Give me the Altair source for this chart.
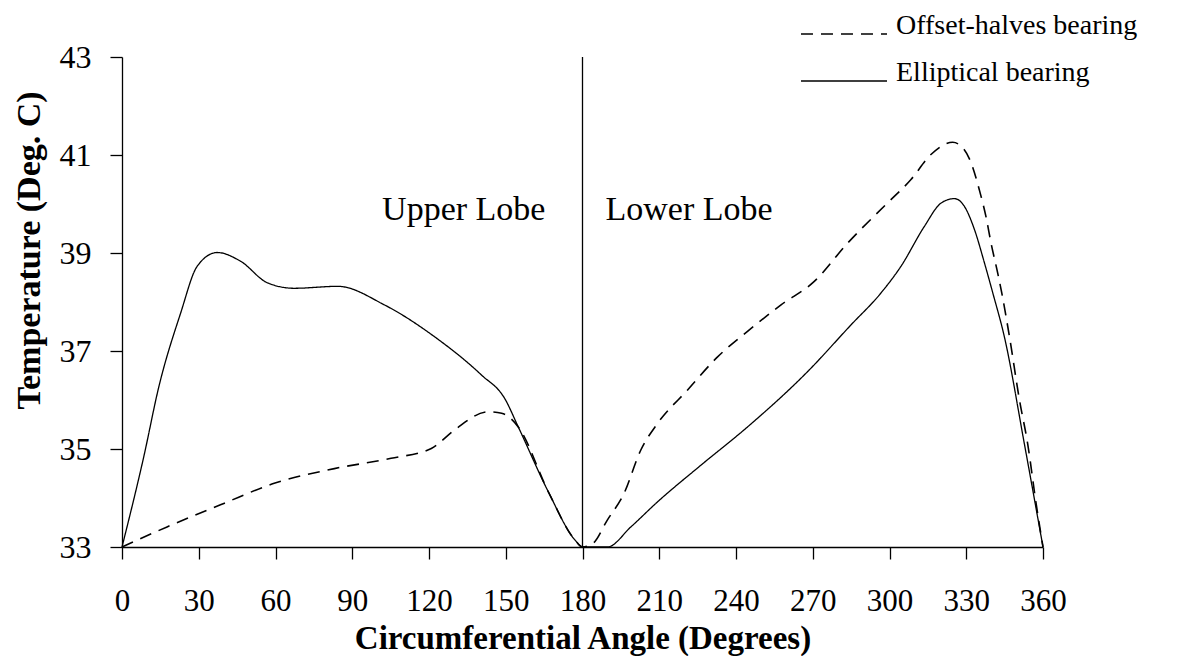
import altair as alt
import pandas as pd

# Elliptical bearing (solid)
ell_angle = [0, 8.5, 14.4, 22.9, 29.4, 37.2, 46.4, 56.9, 67.3, 84.3, 102.6, 122.2,
             140.5, 149.6, 154.9, 166.7, 177.1, 180, 189.7, 198.9, 209.3, 226.3,
             244.5, 268, 284.9, 296.6, 304.5, 313.6, 320.2, 325.4, 329.3, 333.2,
             337.1, 340.4, 344.9, 352.7, 360]
ell_temp = [33.0, 34.84, 36.27, 37.77, 38.73, 39.01, 38.83, 38.39, 38.28, 38.32, 37.94, 37.29,
            36.51, 36.03, 35.45, 34.12, 33.14, 33.0, 33.0, 33.41, 33.92, 34.67,
            35.45, 36.58, 37.53, 38.18, 38.73, 39.54, 40.02, 40.11, 39.95, 39.48,
            38.80, 38.18, 37.29, 35.11, 33.0]

# Offset-halves bearing (dashed)
off_angle = [0, 17.6, 39.8, 59.5, 83, 105.2, 120.9, 130, 143.1, 148.4, 154.9, 166.7,
             177.1, 180, 184, 189.7, 196.2, 202.8, 209.3, 221, 232.8, 244.5, 257.6,
             270.6, 283.6, 298.6, 308.4, 316.2, 324.7, 328, 331.9, 335.1, 337.8,
             339.7, 342.3, 343.9, 346.9, 350.8, 354, 357.3, 360]
off_temp = [33.0, 33.41, 33.89, 34.30, 34.60, 34.81, 35.01, 35.39, 35.76, 35.73, 35.45, 34.12,
            33.14, 33.0, 33.07, 33.55, 34.09, 34.98, 35.52, 36.2, 36.88, 37.40, 37.94,
            38.42, 39.2, 39.99, 40.50, 41.01, 41.26, 41.18, 40.84, 40.29, 39.72,
            39.2, 38.59, 38.18, 37.29, 36.0, 35.11, 33.89, 33.0]

x_ticks = list(range(0, 361, 30))
y_ticks = [33, 35, 37, 39, 41, 43]

lobe_labels = ["Upper Lobe", "Lower Lobe"]
lobe_x = [165.5, 189]
lobe_y = [39.68, 39.68]
divider_x = [180]

FONT = "Liberation Serif"

df_ell = pd.DataFrame({"angle": ell_angle, "temp": ell_temp, "series": "Elliptical bearing"})
df_off = pd.DataFrame({"angle": off_angle, "temp": off_temp, "series": "Offset-halves bearing"})
df_lab = pd.DataFrame({"label": lobe_labels, "angle": lobe_x, "temp": lobe_y})
df_div = pd.DataFrame({"angle": divider_x, "t0": [33], "t1": [43]})

xscale = alt.Scale(domain=[0, 360], nice=False)
yscale = alt.Scale(domain=[33, 43], nice=False)

AX = dict(labelFont=FONT, titleFont=FONT, labelColor="black", titleColor="black",
          domainColor="black", tickColor="black", domainWidth=1.3, tickWidth=1.3,
          grid=False, labelOverlap=False, labelFlush=False, tickSize=12)

xaxis = alt.Axis(values=x_ticks, title="Circumferential Angle (Degrees)",
                 labelPadding=51, labelBaseline="alphabetic",
                 labelFontSize=31, titleFontSize=33, titleFontWeight="bold",
                 titleBaseline="alphabetic", titleY=101, titleX=460.5, titleAnchor="middle", **AX)
yaxis = alt.Axis(values=y_ticks, title="Temperature (Deg. C)",
                 labelPadding=19, labelFontSize=32,
                 titleFontSize=34, titleFontWeight="bold", titleAngle=-90,
                 titleBaseline="alphabetic", titleX=-83, titleY=193, titleAnchor="middle", **AX)

x = alt.X("angle:Q", scale=xscale, axis=xaxis)
y = alt.Y("temp:Q", scale=yscale, axis=yaxis)

LEG = dict(title=None, orient="none", legendX=678,
           symbolSize=7400, symbolStrokeWidth=1.4,
           symbolStrokeColor="black", labelFontSize=28,
           labelFont=FONT, labelColor="black", labelBaseline="alphabetic",
           labelOffset=8, padding=0, labelLimit=400)

off_line = alt.Chart(df_off).mark_line(color="black", strokeWidth=1.6, interpolate="monotone").encode(
    x=x, y=y,
    strokeDash=alt.StrokeDash("series:N",
                              scale=alt.Scale(domain=["Offset-halves bearing"], range=[[12, 8]]),
                              legend=alt.Legend(legendY=-67, **LEG)),
)

ell_line = alt.Chart(df_ell).mark_line(color="black", strokeWidth=1.3, interpolate="monotone").encode(
    x=x, y=y,
    strokeDash=alt.StrokeDash("series:N",
                              scale=alt.Scale(domain=["Elliptical bearing"], range=[[1, 0]]),
                              legend=alt.Legend(legendY=-20, **LEG)),
)

divider = alt.Chart(df_div).mark_rule(color="black", strokeWidth=1.3).encode(
    x=alt.X("angle:Q", scale=xscale), y=alt.Y("t0:Q", scale=yscale), y2="t1:Q"
)

upper = alt.Chart(df_lab[df_lab.label == "Upper Lobe"]).mark_text(
    align="right", baseline="alphabetic", fontSize=34, font=FONT, color="black"
).encode(x=alt.X("angle:Q", scale=xscale), y=alt.Y("temp:Q", scale=yscale), text="label:N")

lower = alt.Chart(df_lab[df_lab.label == "Lower Lobe"]).mark_text(
    align="left", baseline="alphabetic", fontSize=34, font=FONT, color="black"
).encode(x=alt.X("angle:Q", scale=xscale), y=alt.Y("temp:Q", scale=yscale), text="label:N")

chart = alt.layer(divider, ell_line, off_line, upper, lower).resolve_scale(
    strokeDash="independent"
).resolve_legend(strokeDash="independent").properties(
    width=921, height=490,
    background="white",
    autosize=alt.AutoSizeParams(type="none"),
    padding={"left": 114, "top": 49, "right": 148, "bottom": 109},
).configure_view(strokeWidth=0)

chart.save("out.html", embed_options={"renderer": "svg", "actions": False})
